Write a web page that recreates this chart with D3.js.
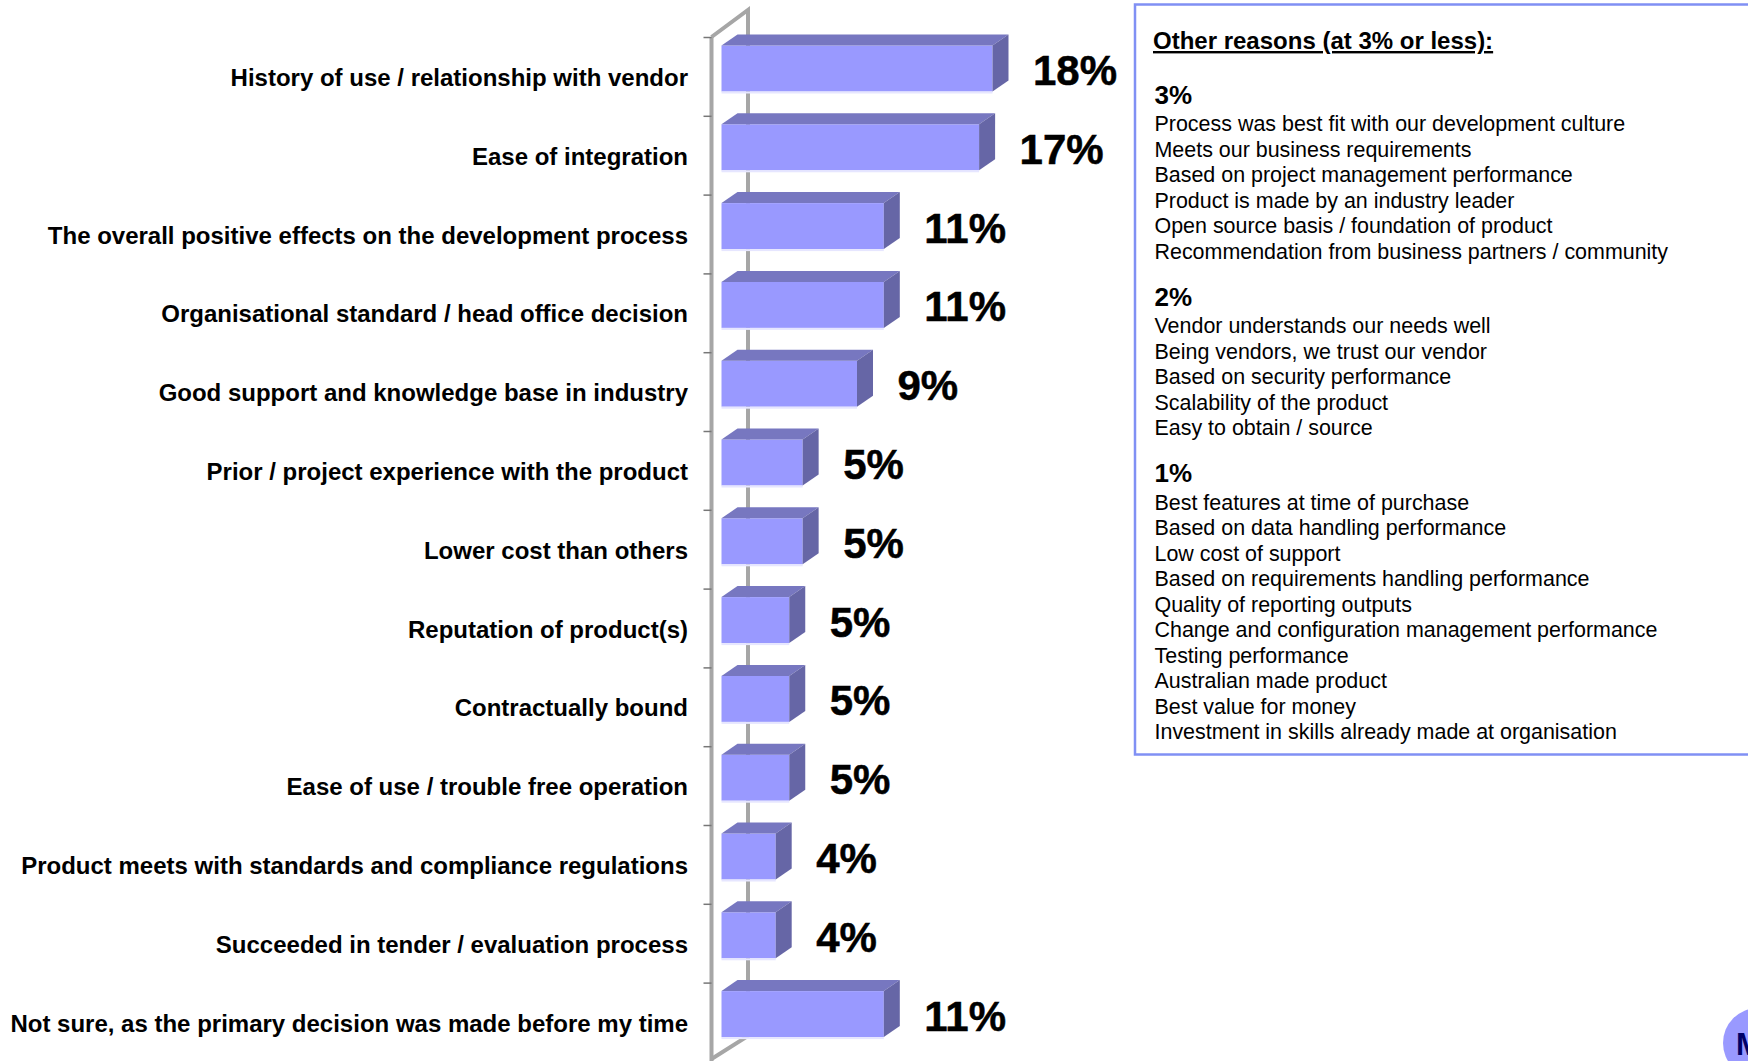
<!DOCTYPE html>
<html lang="en">
<head>
    <meta charset="UTF-8">
    <title>Reasons for choosing</title>
    <style>
        html, body { margin: 0; padding: 0; background: #fff; overflow: hidden; }
        text { font-family: "Liberation Sans", Arial, sans-serif; }
    </style>
</head>
<body>
<div id="chart"></div>

<script src="https://d3js.org/d3.v7.min.js"></script>

<script>
    // Chart data, bar lengths are estimated from the picture, labels are as printed
    var categories = [
        "History of use / relationship with vendor",
        "Ease of integration",
        "The overall positive effects on the development process",
        "Organisational standard / head office decision",
        "Good support and knowledge base in industry",
        "Prior / project experience with the product",
        "Lower cost than others",
        "Reputation of product(s)",
        "Contractually bound",
        "Ease of use / trouble free operation",
        "Product meets with standards and compliance regulations",
        "Succeeded in tender / evaluation process",
        "Not sure, as the primary decision was made before my time"
    ];
    var values = [18.2, 17.3, 10.9, 10.9, 9.1, 5.45, 5.45, 4.55, 4.55, 4.55, 3.64, 3.64, 10.9];
    var valueLabels = ["18%", "17%", "11%", "11%", "9%", "5%", "5%", "5%", "5%", "5%", "4%", "4%", "11%"];

    // Side panel text
    var panelTitle = "Other reasons (at 3% or less):";
    var reasons3 = [
        "Process was best fit with our development culture",
        "Meets our business requirements",
        "Based on project management performance",
        "Product is made by an industry leader",
        "Open source basis / foundation of product",
        "Recommendation from business partners / community"
    ];
    var reasons2 = [
        "Vendor understands our needs well",
        "Being vendors, we trust our vendor",
        "Based on security performance",
        "Scalability of the product",
        "Easy to obtain / source"
    ];
    var reasons1 = [
        "Best features at time of purchase",
        "Based on data handling performance",
        "Low cost of support",
        "Based on requirements handling performance",
        "Quality of reporting outputs",
        "Change and configuration management performance",
        "Testing performance",
        "Australian made product",
        "Best value for money",
        "Investment in skills already made at organisation"
    ];
    var panelGroups = [
        {head: "3%", lines: reasons3, baseline: 103.5},
        {head: "2%", lines: reasons2, baseline: 305.5},
        {head: "1%", lines: reasons1, baseline: 482}
    ];

    var vp = {width: 1748, height: 1061};
    var depth = {x: 16, y: 11};
    var barHeight = 46;

    var svg = d3.select("#chart").append("svg")
        .attr("width", vp.width)
        .attr("height", vp.height)
        .style("display", "block");

    // Scales: x starts at the bar base, y has one slot per category
    var x = d3.scaleLinear().domain([0, 18.2]).range([721.5, 992.5]);
    var y = d3.scaleLinear().domain([0, categories.length]).range([37, 1061.4]);

    // Back wall and floor of the 3D plot
    var wallX = 748, axisX = 711.5;
    var gray = "#a6a6a6";
    var wall = svg.append("g")
        .attr("fill", "none")
        .attr("stroke", gray)
        .attr("stroke-width", 4);
    wall.append("path")
        .attr("d", d3.line()([[axisX, y(0)], [wallX, y(0) - 27], [wallX, 1036], [axisX, 1059]]));
    wall.append("path")
        .attr("d", d3.line()([[axisX, y(0)], [axisX, vp.height]]));

    // Tick marks at the slot boundaries
    svg.append("g")
        .attr("transform", "translate(" + axisX + ",0)")
        .call(d3.axisLeft(y).tickValues(d3.range(categories.length)).tickSize(8).tickFormat(""))
        .call(g => g.select(".domain").remove())
        .call(g => g.selectAll("line").attr("stroke", "#777").attr("stroke-width", 1.5));

    // Bars, each with a front, a top and a side face
    var bars = svg.append("g").selectAll("g")
        .data(values)
        .enter()
        .append("g")
        .attr("transform", (d, i) => "translate(0," + (y(i) + 8.5) + ")");

    bars.append("rect")
        .attr("x", x(0))
        .attr("y", 0)
        .attr("width", d => x(d) - x(0))
        .attr("height", barHeight)
        .attr("fill", "#9999ff");

    bars.append("rect")
        .attr("x", x(0))
        .attr("y", barHeight)
        .attr("width", d => x(d) - x(0))
        .attr("height", 2)
        .attr("fill", "#e6e6ff");

    bars.append("path")
        .attr("d", d => d3.line()([
            [x(0), 0],
            [x(0) + depth.x, -depth.y],
            [x(d) + depth.x, -depth.y],
            [x(d), 0]
        ]) + "Z")
        .attr("fill", "#7777c0");

    bars.append("path")
        .attr("d", d => d3.line()([
            [x(d), 0],
            [x(d) + depth.x, -depth.y],
            [x(d) + depth.x, barHeight - depth.y],
            [x(d), barHeight]
        ]) + "Z")
        .attr("fill", "#6666a6");

    // Value labels
    bars.append("text")
        .attr("x", d => x(d) + 40.5)
        .attr("y", 39.5)
        .attr("font-size", 42)
        .attr("font-weight", "bold")
        .attr("fill", "#000")
        .attr("stroke", "#000")
        .attr("stroke-width", 0.5)
        .text((d, i) => valueLabels[i]);

    // Category labels
    svg.append("g").selectAll("text")
        .data(categories)
        .enter()
        .append("text")
        .attr("x", 688)
        .attr("y", (d, i) => y(i) + 48.9)
        .attr("text-anchor", "end")
        .attr("font-size", 24)
        .attr("font-weight", "bold")
        .attr("fill", "#000")
        .text(d => d);

    // Side panel
    var panel = svg.append("g");
    panel.append("rect")
        .attr("x", 1135)
        .attr("y", 4.5)
        .attr("width", 640)
        .attr("height", 750)
        .attr("fill", "#fff")
        .attr("stroke", "#8090f4")
        .attr("stroke-width", 2.5);

    panel.append("text")
        .attr("x", 1153)
        .attr("y", 49)
        .attr("font-size", 24)
        .attr("font-weight", "bold")
        .attr("text-decoration", "underline")
        .text(panelTitle);

    panelGroups.forEach(function (group) {
        panel.append("text")
            .attr("x", 1154.5)
            .attr("y", group.baseline)
            .attr("font-size", 26)
            .attr("font-weight", "bold")
            .text(group.head);
        panel.append("g").selectAll("text")
            .data(group.lines)
            .enter()
            .append("text")
            .attr("x", 1154.5)
            .attr("y", (d, i) => group.baseline + 27.5 + i * 25.5)
            .attr("font-size", 21.45)
            .text(d => d);
    });

    // Logo badge, cut off by the page corner
    svg.append("circle")
        .attr("cx", 1758)
        .attr("cy", 1043)
        .attr("r", 35)
        .attr("fill", "#9999ff");
    svg.append("text")
        .attr("x", 1736)
        .attr("y", 1055)
        .attr("font-size", 31)
        .attr("font-weight", "bold")
        .attr("fill", "#000066")
        .text("M");
</script>

</body>
</html>
